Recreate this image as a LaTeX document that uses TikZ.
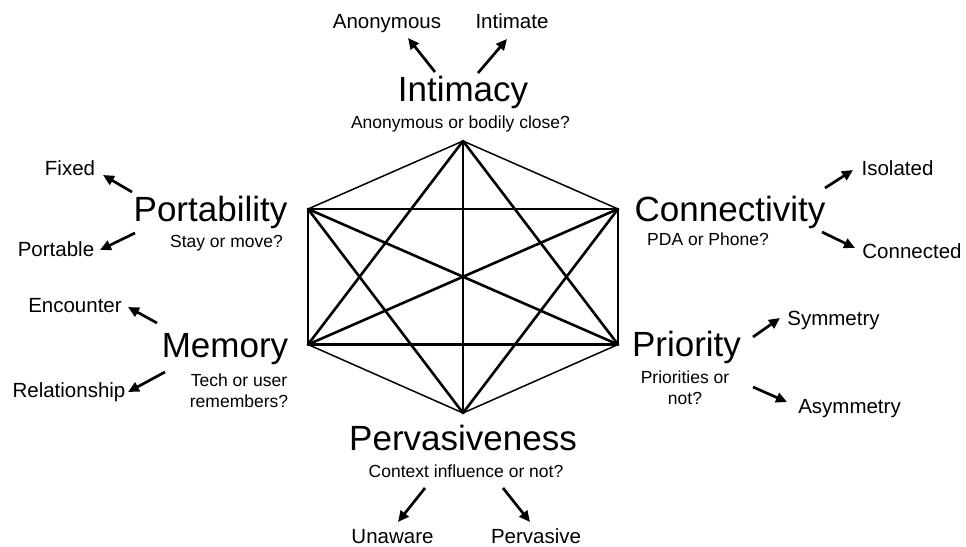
\documentclass[tikz,border=0pt]{standalone}
\usepackage{fontspec}
\setmainfont{Liberation Sans}
\usetikzlibrary{arrows.meta}

\tikzset{
  title/.style={anchor=base, inner sep=0pt, font=\fontsize{35}{35}\selectfont},
  question/.style={anchor=base, inner sep=0pt, align=center, font=\fontsize{17.5}{20.5}\selectfont},
  choice/.style={anchor=base, inner sep=0pt, font=\fontsize{20.5}{20.5}\selectfont},
  pick/.style={-{Triangle[length=11pt,width=10pt]}, line width=2.7pt},
  edge/.style={line width=2.6pt, line cap=round},
  rim/.style={line width=1.5pt, line cap=round}
}

\begin{document}
\begin{tikzpicture}[x=1pt, y=-1pt]
    \useasboundingbox (0,0) rectangle (966,546);

    % hexagon corners
    \coordinate (T) at (463,141);
    \coordinate (UR) at (618,209);
    \coordinate (LR) at (618,344.5);
    \coordinate (B) at (463,413);
    \coordinate (LL) at (308,344.5);
    \coordinate (UL) at (308,209);

    \foreach \a/\b in {T/UR, T/UL, B/LR, B/LL, UL/LL, UR/LR}
        \draw[rim] (\a) -- (\b);
    \foreach \a/\b in {T/B, T/LL, T/LR, B/UL, B/UR, UL/LR, UR/LL, UL/UR, LL/LR}
        \draw[edge] (\a) -- (\b);

    % dimensions
    \node[title] (intimacy) at (463,101) {Intimacy};
    \node[question] (intimacyQ) at (460.5,128) {Anonymous or bodily close?};
    \node[title] (portability) at (210.5,221) {Portability};
    \node[question] (portabilityQ) at (226.5,247) {Stay or move?};
    \node[title] (memory) at (225,357) {Memory};
    \node[question, anchor=north] (memoryQ) at (239,374) {Tech or user\\remembers?};
    \node[title] (connectivity) at (730,221) {Connectivity};
    \node[question] (connectivityQ) at (708,245) {PDA or Phone?};
    \node[title] (priority) at (686.5,356) {Priority};
    \node[question, anchor=north] (priorityQ) at (685,371) {Priorities or\\not?};
    \node[title] (pervasiveness) at (463,450) {Pervasiveness};
    \node[question] (pervasivenessQ) at (466,477) {Context influence or not?};

    % choices
    \node[choice] (anon) at (387,28) {Anonymous};
    \node[choice] (intimate) at (512,28) {Intimate};
    \node[choice] (fixed) at (70,175) {Fixed};
    \node[choice] (portable) at (56,256) {Portable};
    \node[choice] (encounter) at (75,312) {Encounter};
    \node[choice] (relationship) at (69,397) {Relationship};
    \node[choice] (isolated) at (897.5,175) {Isolated};
    \node[choice] (connected) at (912,258) {Connected};
    \node[choice] (symmetry) at (833.5,325) {Symmetry};
    \node[choice] (asymmetry) at (849.5,413) {Asymmetry};
    \node[choice] (unaware) at (392.5,543) {Unaware};
    \node[choice] (pervasive) at (536,543) {Pervasive};

    % arrows to the choices
    \foreach \n/\a/\b/\c/\d in {anon/435/72/408/38, intimate/478/73/507/39,
            fixed/132/192/103/175, portable/135/233/100/250,
            encounter/157/323/128/307, relationship/165/372/128/392,
            isolated/825/188/853/170, connected/822/232/855/248,
            symmetry/753/337/780/318, asymmetry/753/387/787/402,
            unaware/425/488/398/522, pervasive/503/488/530/522} {
        \coordinate (\n-tail) at (\a,\b);
        \coordinate (\n-tip) at (\c,\d);
        \draw[pick] (\n-tail) -- (\n-tip);
    }
\end{tikzpicture}
\end{document}
